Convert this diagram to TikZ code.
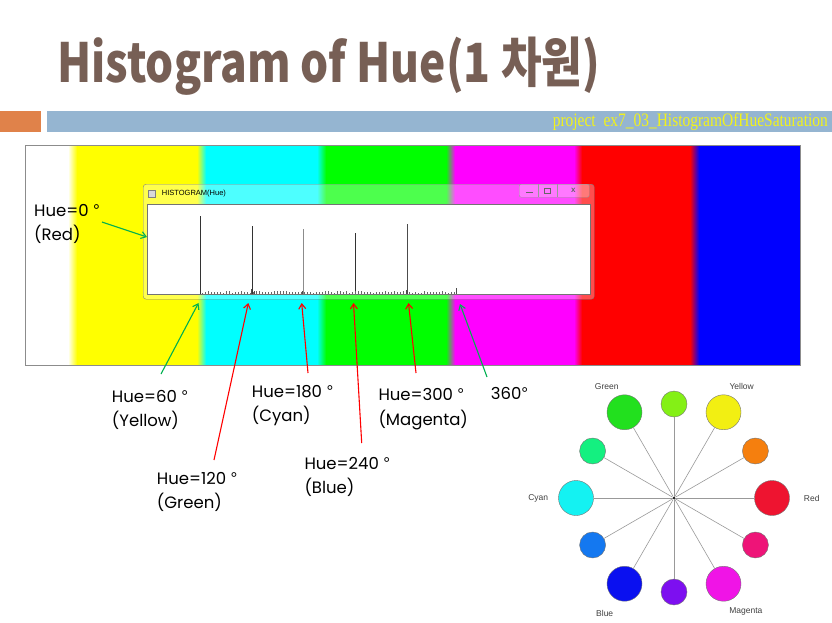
\documentclass[tikz,border=0pt]{standalone}
\usepackage{fontspec}
\usepackage{graphicx}
\usepackage{xcolor}
\usepackage{tikz}
\usetikzlibrary{arrows.meta, positioning, calc}
\newfontfamily\labelfont{Poppins}
\newfontfamily\titlefont{Noto Sans CJK KR}
\newfontfamily\winfont{Liberation Sans}
\newfontfamily\projfont{Liberation Serif}
\definecolor{titlebrown}{HTML}{775F55}
\definecolor{barorange}{HTML}{E0824A}
\definecolor{barblue}{HTML}{95B5D1}
\definecolor{projyellow}{HTML}{F2F21A}
\definecolor{huegreen}{HTML}{00B050}
\definecolor{huered}{HTML}{FF0000}
\definecolor{sWhite}{HTML}{FFFFFF}
\definecolor{sYellow}{HTML}{FFFF00}
\definecolor{sCyan}{HTML}{00FFFF}
\definecolor{sGreen}{HTML}{00FF00}
\definecolor{sMagenta}{HTML}{FF00FF}
\definecolor{sRed}{HTML}{FF0000}
\definecolor{sBlue}{HTML}{0000FF}
\definecolor{wRed}{HTML}{EE1430}
\definecolor{wOrange}{HTML}{F57F0E}
\definecolor{wYellow}{HTML}{F2EF12}
\definecolor{wLime}{HTML}{84F016}
\definecolor{wGreen}{HTML}{22E01E}
\definecolor{wSpring}{HTML}{14F080}
\definecolor{wCyan}{HTML}{14F2F2}
\definecolor{wAzure}{HTML}{1478F0}
\definecolor{wBlue}{HTML}{0A10F0}
\definecolor{wViolet}{HTML}{7D0FF0}
\definecolor{wMagenta}{HTML}{F014E6}
\definecolor{wRose}{HTML}{EE1478}
\newcommand{\dg}{{\winfont\fontsize{17}{17}\selectfont °}}

\begin{document}
\begin{tikzpicture}[
    x=1pt, y=-1pt,
    huelabel/.style={anchor=north west, inner sep=0pt, align=left,
                     font=\labelfont\fontsize{16.5}{24.5}\selectfont},
    garrow/.style={-{Straight Barb[length=5pt, width=7pt]}, line width=1.1pt, color=huegreen},
    rarrow/.style={garrow, color=huered},
    spike/.style={line width=0.8pt},
    wheeldot/.style={circle, draw=black!55, line width=0.4pt, inner sep=0pt},
    spoke/.style={draw=black!40, line width=0.6pt},
    wheellabel/.style={font=\winfont\fontsize{8.5}{10}\selectfont, text=black!75, inner sep=0pt},
  ]
  \useasboundingbox (0,0) rectangle (832,622);

  % Title and header bar
  \node[anchor=base west, inner sep=0pt, text=titlebrown] (title) at (57,82)
    {\resizebox{543pt}{\height}{\titlefont\bfseries\fontsize{54}{60}\selectfont Histogram of Hue(1 차원)}};
  \node[fill=barorange, anchor=north west, minimum width=41pt, minimum height=21pt, inner sep=0pt] (tab) at (0,111) {};
  \node[fill=barblue, anchor=north west, minimum width=785pt, minimum height=21pt, inner sep=0pt] (bar) at (47,111) {};
  \node[anchor=base east, inner sep=0pt, text=projyellow] (proj) at (828,126.5)
    {\resizebox{275pt}{\height}{\projfont\fontsize{19}{20}\selectfont project\ \ ex7\_03\_HistogramOfHueSaturation}};

  % Colour strip
  \foreach \xa/\xb/\col in {25/68/sWhite, 77/197/sYellow, 206/317/sCyan, 326/446/sGreen,
                            455/574/sMagenta, 582/690/sRed, 699/800/sBlue}
    \fill[\col] (\xa,145) rectangle (\xb,365);
  \foreach \xa/\xb/\ca/\cb in {68/77/sWhite/sYellow, 197/206/sYellow/sCyan, 317/326/sCyan/sGreen,
                               446/455/sGreen/sMagenta, 574/582/sMagenta/sRed, 690/699/sRed/sBlue}
    \shade[left color=\ca, right color=\cb] (\xa,145) rectangle (\xb,365);
  \node[draw=black!45, line width=0.8pt, anchor=north west, minimum width=775pt,
        minimum height=220pt, inner sep=0pt] (strip) at (25,145) {};

  % Histogram window
  \node[draw=black!50, fill=white, fill opacity=0.3, rounded corners=3pt, anchor=north west,
        minimum width=451pt, minimum height=115pt, inner sep=0pt] (win) at (143,184) {};
  \node[draw=black!55, line width=0.8pt, fill=white, anchor=north west,
        minimum width=443pt, minimum height=90pt, inner sep=0pt] (plot) at (147,204) {};
  \node[draw=black!50, fill=black!15, minimum size=7pt, inner sep=0pt] (icon) at (152,193.5) {};
  \node[right=6pt of icon, inner sep=0pt, font=\winfont\fontsize{7.5}{9}\selectfont] (wintitle) {HISTOGRAM(Hue)};
  \node[draw=black!40, fill=white, fill opacity=0.25, rounded corners=2pt, anchor=north west,
        minimum width=70pt, minimum height=13pt, inner sep=0pt] (btns) at (519,184) {};
  \draw[black!40] (538,184) -- (538,197) (557,184) -- (557,197);
  \draw[black!60, line width=1.4pt] (526,192.5) -- (533,192.5);
  \draw[black!60, line width=1pt] (544.5,188.5) rectangle (550.5,193);
  \node[inner sep=0pt, text=black!60, font=\winfont\bfseries\fontsize{8}{9}\selectfont] (close) at (573.3,190) {x};

  \foreach \x/\top/\col in {200.3/216/black!80, 252.3/225.7/black!80, 303.7/229.3/black!45,
                            355.3/233.3/black!80, 407/223.7/black!70}
    \draw[spike, \col] (\x,293.5) -- (\x,\top);
  \pgfmathsetseed{3}
  \foreach \x in {202,205,...,456}{
    \pgfmathsetmacro\hh{0.6+1.8*rnd}
    \draw[black!60, line width=0.5pt] (\x,293.5) -- (\x,293.5-\hh);
  }
  \foreach \x/\hh in {251/5, 254/3, 302/3, 406/4, 456/6}
    \draw[black!70, line width=0.6pt] (\x,293.5) -- (\x,293.5-\hh);

  % Hue labels and arrows
  \node[huelabel] (l0) at (34,204) {Hue=0 \dg\\(Red)};
  \node[huelabel] (l60) at (111.7,390) {Hue=60 \dg\\(Yellow)};
  \node[huelabel] (l120) at (156.7,471.7) {Hue=120 \dg\\(Green)};
  \node[huelabel] (l180) at (251.7,385) {Hue=180 \dg\\(Cyan)};
  \node[huelabel] (l240) at (304.3,456.7) {Hue=240 \dg\\(Blue)};
  \node[huelabel] (l300) at (378.3,388.3) {Hue=300 \dg\\(Magenta)};
  \node[huelabel] (l360) at (490.7,386.7) {360\dg};

  \coordinate (t0) at (102,222);    \coordinate (h0) at (147,237);
  \coordinate (t60) at (161,374);   \coordinate (h60) at (198.5,303);
  \coordinate (t120) at (214,460);  \coordinate (h120) at (248.3,303);
  \coordinate (t180) at (308,373);  \coordinate (h180) at (301.7,303);
  \coordinate (t240) at (361.7,443); \coordinate (h240) at (353.5,303);
  \coordinate (t300) at (416,373);  \coordinate (h300) at (408.5,303);
  \coordinate (t360) at (487,377);  \coordinate (h360) at (460,304);

  \foreach \n/\sty in {0/garrow, 60/garrow, 120/rarrow, 180/rarrow, 240/rarrow, 300/rarrow, 360/garrow}
    \draw[\sty] (t\n) -- (h\n);

  % Colour wheel
  \node[fill=black!85, minimum size=2.5pt, inner sep=0pt] (w) at (674,498) {};
  \foreach \ang/\rad/\dia/\col in {0/98/35/wRed, 30/94/26/wOrange, 60/99/35/wYellow, 90/94/26/wLime,
                                   120/99/35/wGreen, 150/94/26/wSpring, 180/98/35/wCyan, 210/94/26/wAzure,
                                   240/99/35/wBlue, 270/94/26/wViolet, 300/99/35/wMagenta, 330/94/26/wRose}{
    \node[wheeldot, fill=\col, minimum size=\dia pt] (c\col) at ($(w)+(-\ang:\rad)$) {};
    \draw[spoke] (w) -- (c\col);
  }
  \node[wheellabel, right=14pt of cwRed] (nred) {Red};
  \node[wheellabel, left=10pt of cwCyan] (ncyan) {Cyan};
  \node[wheellabel] (nyellow) at (741.7,386.7) {Yellow};
  \node[wheellabel] (ngreen) at (606.7,386.7) {Green};
  \node[wheellabel] (nblue) at (604.7,613.3) {Blue};
  \node[wheellabel] (nmagenta) at (745.8,611.7) {Magenta};

\end{tikzpicture}
\end{document}
